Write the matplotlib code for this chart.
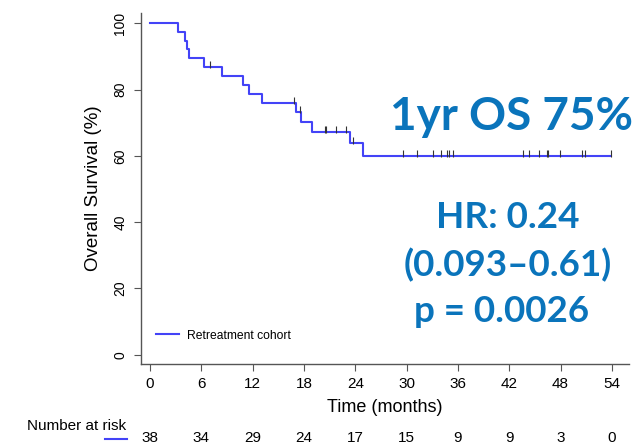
import numpy as np
import matplotlib
matplotlib.use('Agg')
import matplotlib.pyplot as plt
from matplotlib.transforms import blended_transform_factory

# follow-up times in months: deaths and censored patients
event_times = [3.3, 4.1, 4.3, 4.5, 6.35, 8.4, 10.9, 11.6, 13.1, 17.07, 17.65, 18.9, 23.4, 24.9]
censor_times = [7.05, 16.8, 17.5, 20.5, 20.6, 21.8, 22.9, 23.7,
                29.6, 31.2, 33.1, 34.0, 34.7, 34.9, 35.4,
                43.6, 44.3, 45.5, 46.4, 46.5, 47.9, 50.5, 50.8, 53.9]

risk_times = [0, 6, 12, 18, 24, 30, 36, 42, 48, 54]
at_risk = [38, 34, 29, 24, 17, 15, 9, 9, 3, 0]

km_color = '#4343f7'
note_color = '#0a74bb'


def kaplan_meier(events, censors):
    times = np.array(events + censors)
    dead = np.array([1] * len(events) + [0] * len(censors))
    order = np.argsort(times, kind='stable')
    times, dead = times[order], dead[order]
    n = len(times)
    s = 1.0
    step_t, step_s = [0.0], [1.0]
    cens_t, cens_s = [], []
    for i, (t, d) in enumerate(zip(times, dead)):
        if d:
            s *= (n - i - 1) / (n - i)
            step_t.append(t)
            step_s.append(s)
        else:
            cens_t.append(t)
            cens_s.append(s)
    step_t.append(times.max())
    step_s.append(s)
    return np.array(step_t), np.array(step_s) * 100, np.array(cens_t), np.array(cens_s) * 100


plt.rcParams['font.family'] = ['Liberation Sans', 'DejaVu Sans']

fig = plt.figure(figsize=(6.39, 4.45), dpi=100)
ax = fig.add_axes([0.2207, 0.182, 0.7637, 0.7888])

st, ss, ct, cs = kaplan_meier(event_times, censor_times)
ax.step(st, ss, where='post', color=km_color, lw=1.5, label='Retreatment cohort')
ax.vlines(ct, cs - 0.3, cs + 1.8, color='#333333', lw=0.8)

ax.set_xlim(-1.05, 56)
ax.set_ylim(-2.8, 103.1)
ax.set_xticks(risk_times)
ax.set_yticks(range(0, 101, 20))
for side in ['top', 'right']:
    ax.spines[side].set_visible(False)
for side in ['left', 'bottom']:
    ax.spines[side].set_color('#555555')
    ax.spines[side].set_linewidth(1.0)
ax.tick_params(colors='#555555', labelcolor='black', length=5)
ax.tick_params(axis='x', pad=4, labelsize=11)
ax.tick_params(axis='y', pad=5, labelsize=10)
for lab in ax.get_yticklabels():
    lab.set_rotation(90)
    lab.set_va('center')

ax.set_xlabel('Time (months)', fontsize=13, labelpad=6)
ax.set_ylabel('Overall Survival (%)', fontsize=13.5, labelpad=8)

ax.legend(loc='center left', bbox_to_anchor=(0.031, 0.0806), frameon=False,
          fontsize=8.7, handlelength=1.9, handletextpad=0.65, borderpad=0,
          borderaxespad=0)

# number-at-risk table under the axis
tr = blended_transform_factory(ax.transData, fig.transFigure)
fig.text(27 / 639, 1 - 426 / 445, 'Number at risk', fontsize=11, va='center', ha='left')
for t, n in zip(risk_times, at_risk):
    ax.text(t, 1 - 438.5 / 445, str(n), transform=tr, fontsize=11,
            ha='center', va='center', clip_on=False)
fig.lines.append(plt.Line2D([105 / 639, 127 / 639], [1 - 439 / 445] * 2,
                            transform=fig.transFigure, color=km_color, lw=1.5))

# summary statistics
fig.text(511 / 639, 1 - 117 / 445, '1yr OS 75%', fontsize=33, fontweight='bold',
         family='Lato', color=note_color, ha='center', va='center')
fig.text(508 / 639, 1 - 217 / 445, 'HR: 0.24', fontsize=26.5, fontweight='bold',
         family='Lato', color=note_color, ha='center', va='center')
fig.text(508 / 639, 1 - 265 / 445, '(0.093\u20130.61)', fontsize=26.5, fontweight='bold',
         family='Lato', color=note_color, ha='center', va='center')
fig.text(502 / 639, 1 - 312 / 445, 'p = 0.0026', fontsize=26.5, fontweight='bold',
         family='Lato', color=note_color, ha='center', va='center')

fig.savefig('out.png', dpi=100)
